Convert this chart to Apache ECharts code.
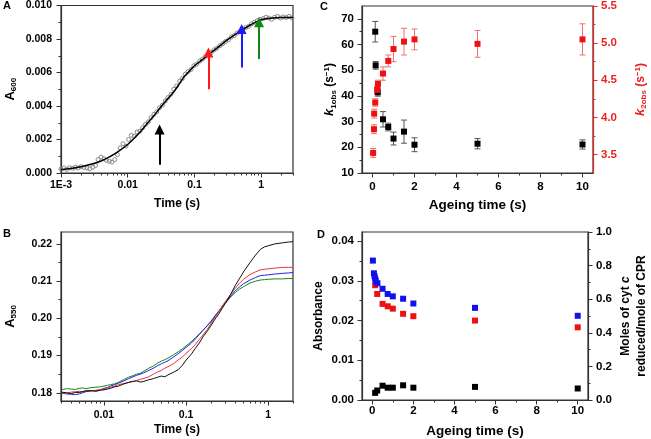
<!DOCTYPE html>
<html><head><meta charset="utf-8">
<script src="https://cdn.jsdelivr.net/npm/echarts@6/dist/echarts.min.js"></script>
<style>html,body{margin:0;padding:0;background:#fff}#c{width:651px;height:439px}</style>
</head><body><div id="c"></div>
<script>
// ---------- Panel A ----------
const aFitT = [0.001,0.0015,0.002,0.003,0.004,0.005,0.007,0.01,0.013,0.015,0.02,0.025,0.03,0.04,0.05,0.06,0.07,0.085,0.1,0.13,0.15,0.2,0.25,0.3,0.4,0.5,0.7,1,1.5,2,3];
const aFitY = [0.00020,0.00028,0.00037,0.00055,0.00072,0.00090,0.00125,0.00170,0.00215,0.00240,0.00300,0.00345,0.00385,0.00445,0.00490,0.00535,0.00575,0.00610,0.00640,0.00675,0.00695,0.00735,0.00765,0.00790,0.00825,0.00850,0.00885,0.00915,0.00925,0.00928,0.00928];
const aDataT = [0.00100,0.00110,0.00122,0.00135,0.00150,0.00165,0.00180,0.00200,0.00220,0.00245,0.00270,0.00300,0.00330,0.00360,0.00400,0.00440,0.00480,0.00530,0.00580,0.00640,0.00700,0.00770,0.00850,0.00940,0.01030,0.01130,0.01250,0.01380,0.01520,0.01670,0.01840,0.02030,0.02240,0.02470,0.02720,0.03000,0.03300,0.03650,0.04000,0.04450,0.04900,0.05400,0.06000,0.06600,0.07300,0.08000,0.08900,0.09800,0.10800,0.12000,0.13200,0.14600,0.16100,0.17800,0.19600,0.21700,0.24000,0.26500,0.29200,0.32300,0.35700,0.39400,0.43500,0.48100,0.53100,0.58700,0.64800,0.71600,0.79100,0.87400,0.96500,1.07000,1.18000,1.30000,1.44000,1.59000,1.76000,1.94000,2.14000,2.37000,2.62000,2.90000];
const aDataY = [0.00025,0.00030,0.00022,0.00032,0.00028,0.00035,0.00030,0.00038,0.00033,0.00030,0.00025,0.00035,0.00045,0.00080,0.00095,0.00085,0.00075,0.00070,0.00065,0.00080,0.00110,0.00150,0.00175,0.00160,0.00200,0.00225,0.00220,0.00245,0.00250,0.00270,0.00290,0.00305,0.00330,0.00350,0.00365,0.00390,0.00405,0.00430,0.00450,0.00470,0.00500,0.00520,0.00548,0.00565,0.00590,0.00605,0.00618,0.00640,0.00650,0.00668,0.00680,0.00695,0.00708,0.00720,0.00735,0.00745,0.00760,0.00772,0.00785,0.00795,0.00812,0.00820,0.00835,0.00845,0.00860,0.00868,0.00875,0.00890,0.00900,0.00910,0.00918,0.00922,0.00930,0.00925,0.00918,0.00930,0.00935,0.00925,0.00932,0.00928,0.00935,0.00926];
const arrowT  = [0.030, 0.162, 0.51, 0.93];
const arrowY0 = [0.0005, 0.0050, 0.0063, 0.0068];
const arrowY1 = [0.0026, 0.0072, 0.0086, 0.0090];
const aXTicks = [0.001, 0.01, 0.1, 1];
const aXLabels = ['1E-3', '0.01', '0.1', '1'];
const aYTicks = [0, 0.002, 0.004, 0.006, 0.008, 0.010];

// ---------- Panel B ----------
const bT = [0.003,0.0035,0.004,0.0045,0.005,0.0055,0.006,0.007,0.008,0.009,0.01,0.011,0.012,0.0135,0.015,0.0175,0.02,0.0225,0.025,0.0275,0.03,0.035,0.04,0.045,0.05,0.055,0.06,0.07,0.08,0.09,0.1,0.115,0.13,0.145,0.16,0.18,0.2,0.225,0.25,0.275,0.3,0.35,0.4,0.45,0.5,0.6,0.7,0.8,0.9,1.0,1.2,1.5,1.75,2.0];
const bBlack = [0.1802,0.1800,0.1798,0.1801,0.1801,0.1803,0.1805,0.1806,0.1804,0.1807,0.1808,0.1810,0.1812,0.1816,0.1818,0.1824,0.1828,0.1831,0.1832,0.1829,0.1830,0.1835,0.1838,0.1842,0.1845,0.1843,0.1848,0.1855,0.1862,0.1874,0.1888,0.1903,0.1920,0.1934,0.1950,0.1965,0.1980,0.1998,0.2012,0.2027,0.2040,0.2065,0.2090,0.2108,0.2125,0.2150,0.2170,0.2185,0.2192,0.2195,0.2200,0.2203,0.2205,0.2206];
const bRed   = [0.1800,0.1799,0.1802,0.1803,0.1804,0.1803,0.1806,0.1805,0.1807,0.1808,0.1810,0.1813,0.1815,0.1818,0.1822,0.1825,0.1828,0.1830,0.1833,0.1836,0.1838,0.1843,0.1850,0.1856,0.1860,0.1866,0.1870,0.1878,0.1888,0.1896,0.1906,0.1918,0.1930,0.1944,0.1955,0.1970,0.1985,0.2003,0.2018,0.2033,0.2045,0.2065,0.2082,0.2095,0.2105,0.2118,0.2125,0.2130,0.2132,0.2133,0.2135,0.2137,0.2137,0.2137];
const bBlue  = [0.1800,0.1797,0.1796,0.1795,0.1797,0.1800,0.1803,0.1805,0.1806,0.1808,0.1812,0.1814,0.1818,0.1822,0.1826,0.1832,0.1838,0.1843,0.1847,0.1850,0.1853,0.1860,0.1866,0.1873,0.1878,0.1882,0.1886,0.1896,0.1905,0.1914,0.1922,0.1933,0.1945,0.1957,0.1968,0.1980,0.1992,0.2007,0.2020,0.2032,0.2042,0.2060,0.2075,0.2085,0.2093,0.2103,0.2110,0.2115,0.2116,0.2117,0.2119,0.2121,0.2122,0.2123];
const bGreen = [0.1808,0.1811,0.1810,0.1809,0.1812,0.1813,0.1811,0.1814,0.1815,0.1816,0.1818,0.1820,0.1822,0.1824,0.1828,0.1836,0.1842,0.1846,0.1850,0.1852,0.1857,0.1866,0.1872,0.1880,0.1885,0.1889,0.1893,0.1902,0.1910,0.1918,0.1926,0.1937,0.1948,0.1958,0.1968,0.1979,0.1990,0.2004,0.2018,0.2030,0.2040,0.2058,0.2070,0.2079,0.2085,0.2095,0.2100,0.2103,0.2104,0.2105,0.2106,0.2106,0.2107,0.2107];
const bXTicks = [0.01, 0.1, 1];
const bXLabels = ['0.01', '0.1', '1'];
const bYTicks = [0.18, 0.19, 0.20, 0.21, 0.22];

// ---------- Panel C ----------
const cBlackX = [0.13,0.15,0.25,0.5,0.75,1,1.5,2,5,10];
const cBlackY = [65.0,51.9,41.4,30.9,27.9,23.4,26.1,21.0,21.4,21.1];
const cBlackErr = [4.0,1.5,1.5,3.0,1.5,2.5,4.5,2.7,2.0,1.8];
const cRedX = [0.03,0.07,0.08,0.13,0.22,0.26,0.5,0.75,1,1.5,2,5,10];
const cRedY = [3.52,3.84,4.05,4.20,4.37,4.45,4.59,4.76,4.92,5.02,5.05,4.99,5.05];
const cRedErr = [0.06,0.06,0.06,0.05,0.05,0.05,0.09,0.08,0.17,0.18,0.14,0.18,0.21];
const cXTicks = [0, 2, 4, 6, 8, 10];
const cYTicks = [10, 20, 30, 40, 50, 60, 70];
const cY2Ticks = [3.5, 4.0, 4.5, 5.0, 5.5];

// ---------- Panel D ----------
const dBlueX = [0.03,0.08,0.11,0.14,0.17,0.25,0.5,0.75,1,1.5,2,5,10];
const dBlueY = [0.0351,0.0319,0.0312,0.0306,0.0300,0.0294,0.0280,0.0267,0.0261,0.0255,0.0243,0.0232,0.0212];
const dRedX = [0.14,0.24,0.5,0.75,1,1.5,2,5,10];
const dRedY = [0.0289,0.0267,0.0242,0.0236,0.0230,0.0217,0.0211,0.0200,0.0183];
const dBlackX = [0.14,0.24,0.5,0.75,1,1.5,2,5,10];
const dBlackY = [0.0018,0.0024,0.0036,0.0031,0.0031,0.0037,0.0031,0.0033,0.0029];
const dXTicks = [0, 2, 4, 6, 8, 10];
const dYTicks = [0, 0.01, 0.02, 0.03, 0.04];
const dY2Ticks = [0, 0.2, 0.4, 0.6, 0.8, 1.0];

// ---------- helpers ----------
const L = Math.log10;
const FONT = '"Liberation Sans", Arial, sans-serif';
const AX = '#333';
function minorLog(lo, hi) {
  const out = [];
  for (let d = -4; d <= 1; d++) for (let k = 2; k <= 9; k++) {
    const v = k * Math.pow(10, d);
    if (v >= lo * 0.999 && v <= hi * 1.001) out.push(L(v));
  }
  return out;
}
function mids(arr) { const o = []; for (let i = 0; i < arr.length - 1; i++) o.push((arr[i] + arr[i + 1]) / 2); return o; }

function axis(o) {
  const color = o.color || AX;
  return {
    type: 'value', gridIndex: o.grid, min: o.min, max: o.max, position: o.pos,
    axisLine: {show: !o.minor, onZero: false, lineStyle: {color: color, width: 1.2}},
    axisTick: {show: true, inside: false, length: o.minor ? 2.5 : 4.5, customValues: o.ticks, lineStyle: {color: color, width: 1}},
    axisLabel: o.minor ? {show: false} : {show: true, customValues: o.ticks, formatter: o.fmt, margin: o.margin,
      color: color === AX ? '#000' : color, fontWeight: 'bold', fontSize: o.fs, fontFamily: FONT},
    splitLine: {show: false},
    name: o.name || '', nameLocation: 'middle', nameGap: o.gap || 0,
    nameTextStyle: {fontWeight: 'bold', fontSize: o.nfs || 12, fontFamily: FONT, color: color === AX ? '#000' : color, rich: o.rich || {}, align: 'center', lineHeight: o.nlh}
  };
}
function errRender(col) {
  return function (params, api) {
    const x = api.value(0), y = api.value(1), e = api.value(2);
    const t = api.coord([x, y + e]), b = api.coord([x, y - e]);
    const w = 3, st = {stroke: col, lineWidth: 1, fill: null};
    return {type: 'group', children: [
      {type: 'line', shape: {x1: t[0], y1: t[1], x2: b[0], y2: b[1]}, style: st},
      {type: 'line', shape: {x1: t[0] - w, y1: t[1], x2: t[0] + w, y2: t[1]}, style: st},
      {type: 'line', shape: {x1: b[0] - w, y1: b[1], x2: b[0] + w, y2: b[1]}, style: st}]};
  };
}
const zip = (xs, ys) => xs.map((x, i) => [x, ys[i]]);
const zipL = (xs, ys) => xs.map((x, i) => [L(x), ys[i]]);

const aXMap = {}; aXTicks.forEach((t, i) => aXMap[L(t).toFixed(3)] = aXLabels[i]);
const bXMap = {}; bXTicks.forEach((t, i) => bXMap[L(t).toFixed(3)] = bXLabels[i]);

const sub = {fontSize: 8, fontWeight: 'bold', fontFamily: FONT, padding: [7, 0, 0, 0]};
const sup = {fontSize: 8, fontWeight: 'bold', fontFamily: FONT, padding: [0, 0, 6, 0]};

const grid = [
  {left: 61, top: 5, width: 232, height: 168, show: true, borderColor: AX, borderWidth: 1.2},
  {left: 61, top: 232, width: 232, height: 169, show: true, borderColor: AX, borderWidth: 1.2},
  {left: 362, top: 5, width: 231, height: 168, show: true, borderColor: AX, borderWidth: 1.2},
  {left: 362, top: 232, width: 232, height: 168, show: true, borderColor: AX, borderWidth: 1.2}
];

const xAxis = [
  axis({grid: 0, min: L(0.001), max: L(3), pos: 'bottom', ticks: aXTicks.map(L), fmt: v => aXMap[v.toFixed(3)] || '', margin: 7, fs: 10.5, name: 'Time (s)', gap: 25, nfs: 12}),
  axis({grid: 0, min: L(0.001), max: L(3), pos: 'bottom', minor: true, ticks: minorLog(0.001, 3)}),
  axis({grid: 1, min: L(0.003), max: L(2), pos: 'bottom', ticks: bXTicks.map(L), fmt: v => bXMap[v.toFixed(3)] || '', margin: 9, fs: 10.5, name: 'Time (s)', gap: 23, nfs: 12}),
  axis({grid: 1, min: L(0.003), max: L(2), pos: 'bottom', minor: true, ticks: minorLog(0.003, 2)}),
  axis({grid: 2, min: -0.5, max: 10.5, pos: 'bottom', ticks: cXTicks, fmt: v => String(v), margin: 8, fs: 11.5, name: 'Ageing time (s)', gap: 25, nfs: 13.5}),
  axis({grid: 2, min: -0.5, max: 10.5, pos: 'bottom', minor: true, ticks: mids(cXTicks)}),
  axis({grid: 3, min: -0.5, max: 10.5, pos: 'bottom', ticks: dXTicks, fmt: v => String(v), margin: 5, fs: 11.5, name: 'Ageing time (s)', gap: 24, nfs: 13.5}),
  axis({grid: 3, min: -0.5, max: 10.5, pos: 'bottom', minor: true, ticks: mids(dXTicks)})
];
const RED = '#ee2222';
const yAxis = [
  axis({grid: 0, min: 0, max: 0.010, pos: 'left', ticks: aYTicks, fmt: v => v.toFixed(3), margin: 9, fs: 10.5,
        name: '{a|A}{s|600}', gap: 43, nfs: 13, rich: {a: {fontSize: 13, fontWeight: 'bold', fontFamily: FONT}, s: sub}}),
  axis({grid: 0, min: 0, max: 0.010, pos: 'left', minor: true, ticks: mids(aYTicks)}),
  axis({grid: 1, min: 0.1778, max: 0.2232, pos: 'left', ticks: bYTicks, fmt: v => v.toFixed(2), margin: 9, fs: 10.5,
        name: '{a|A}{s|550}', gap: 43, nfs: 13, rich: {a: {fontSize: 13, fontWeight: 'bold', fontFamily: FONT}, s: sub}}),
  axis({grid: 1, min: 0.1778, max: 0.2232, pos: 'left', minor: true, ticks: [0.185, 0.195, 0.205, 0.215]}),
  axis({grid: 2, min: 10, max: 75, pos: 'left', ticks: cYTicks, fmt: v => String(v), margin: 8, fs: 11.5,
        name: '{k|k}{s|1obs}{n| (s}{p|−1}{n|)}', gap: 22, nfs: 12,
        rich: {k: {fontSize: 13, fontWeight: 'bold', fontStyle: 'italic', fontFamily: FONT}, s: sub, p: sup, n: {fontSize: 12, fontWeight: 'bold', fontFamily: FONT}}}),
  axis({grid: 2, min: 10, max: 75, pos: 'left', minor: true, ticks: mids(cYTicks)}),
  axis({grid: 2, min: 3.25, max: 5.5, pos: 'right', color: RED, ticks: cY2Ticks, fmt: v => v.toFixed(1), margin: 8, fs: 11.5,
        name: '{k|k}{s|2obs}{n| (s}{p|−1}{n|)}', gap: 40, nfs: 12,
        rich: {k: {fontSize: 13, fontWeight: 'bold', fontStyle: 'italic', fontFamily: FONT, color: RED}, s: Object.assign({}, sub, {color: RED}), p: Object.assign({}, sup, {color: RED}), n: {fontSize: 12, fontWeight: 'bold', fontFamily: FONT, color: RED}}}),
  axis({grid: 2, min: 3.25, max: 5.5, pos: 'right', color: RED, minor: true, ticks: [3.75, 4.25, 4.75, 5.25]}),
  axis({grid: 3, min: 0, max: 0.0423, pos: 'left', ticks: dYTicks, fmt: v => v.toFixed(2), margin: 8, fs: 11.5,
        name: 'Absorbance', gap: 37, nfs: 12}),
  axis({grid: 3, min: 0, max: 0.0423, pos: 'left', minor: true, ticks: mids(dYTicks)}),
  axis({grid: 3, min: 0, max: 1.0, pos: 'right', ticks: dY2Ticks, fmt: v => v.toFixed(1), margin: 8, fs: 11.5,
        name: '{n|Moles of cyt }{i|c}\n{n|reduced/mole of CPR}', gap: 30, nfs: 12, nlh: 16,
        rich: {n: {fontSize: 12, fontWeight: 'bold', fontFamily: FONT, lineHeight: 16}, i: {fontSize: 12, fontWeight: 'bold', fontStyle: 'italic', fontFamily: FONT, lineHeight: 16}}}),
  axis({grid: 3, min: 0, max: 1.0, pos: 'right', minor: true, ticks: mids(dY2Ticks)})
];

const arrowColors = ['#000000', '#ff1a1a', '#1a1aff', '#118811'];
const sq = (c) => ({color: c, opacity: 1});
const series = [
  {type: 'scatter', xAxisIndex: 0, yAxisIndex: 0, data: zipL(aDataT, aDataY), symbol: 'circle', symbolSize: 4,
   itemStyle: {color: 'rgba(255,255,255,0)', borderColor: '#8a8a8a', borderWidth: 1, opacity: 1}, silent: true, z: 2},
  {type: 'line', xAxisIndex: 0, yAxisIndex: 0, data: zipL(aFitT, aFitY), smooth: 0.3, showSymbol: false, symbol: 'none',
   lineStyle: {color: '#000', width: 1.5}, z: 3},
  {type: 'lines', coordinateSystem: 'cartesian2d', xAxisIndex: 0, yAxisIndex: 0, symbol: ['none', 'triangle'], symbolSize: [1, 10], z: 4,
   data: arrowT.map((t, i) => ({coords: [[L(t), arrowY0[i]], [L(t), arrowY1[i]]], lineStyle: {color: arrowColors[i], width: 2, opacity: 1}}))},
  {type: 'line', xAxisIndex: 2, yAxisIndex: 2, data: zipL(bT, bGreen), showSymbol: false, symbol: 'none', lineStyle: {color: '#138a13', width: 1}},
  {type: 'line', xAxisIndex: 2, yAxisIndex: 2, data: zipL(bT, bBlue), showSymbol: false, symbol: 'none', lineStyle: {color: '#2222ee', width: 1}},
  {type: 'line', xAxisIndex: 2, yAxisIndex: 2, data: zipL(bT, bRed), showSymbol: false, symbol: 'none', lineStyle: {color: '#ee3333', width: 1}},
  {type: 'line', xAxisIndex: 2, yAxisIndex: 2, data: zipL(bT, bBlack), showSymbol: false, symbol: 'none', lineStyle: {color: '#111', width: 1}},
  {type: 'custom', xAxisIndex: 4, yAxisIndex: 6, renderItem: errRender('#f07070'), data: cRedX.map((x, i) => [x, cRedY[i], cRedErr[i]]), z: 2},
  {type: 'custom', xAxisIndex: 4, yAxisIndex: 4, renderItem: errRender('#555'), data: cBlackX.map((x, i) => [x, cBlackY[i], cBlackErr[i]]), z: 2},
  {type: 'scatter', xAxisIndex: 4, yAxisIndex: 4, data: zip(cBlackX, cBlackY), symbol: 'rect', symbolSize: 6, itemStyle: sq('#000'), z: 3},
  {type: 'scatter', xAxisIndex: 4, yAxisIndex: 6, data: zip(cRedX, cRedY), symbol: 'rect', symbolSize: 6, itemStyle: sq('#ee1111'), z: 4},
  {type: 'scatter', xAxisIndex: 6, yAxisIndex: 8, data: zip(dRedX, dRedY), symbol: 'rect', symbolSize: 6, itemStyle: sq('#ee1111'), z: 3},
  {type: 'scatter', xAxisIndex: 6, yAxisIndex: 8, data: zip(dBlueX, dBlueY), symbol: 'rect', symbolSize: 6, itemStyle: sq('#1111ee'), z: 4},
  {type: 'scatter', xAxisIndex: 6, yAxisIndex: 8, data: zip(dBlackX, dBlackY), symbol: 'rect', symbolSize: 6, itemStyle: sq('#000'), z: 4}
];

const lbl = (t, x, y) => ({type: 'text', left: x, top: y, style: {text: t, font: 'bold 11px ' + FONT, fill: '#000'}});
const option = {
  animation: false, backgroundColor: '#fff',
  grid, xAxis, yAxis, series,
  graphic: [lbl('A', 3, 0), lbl('B', 3, 228), lbl('C', 320, 1), lbl('D', 317, 229)]
};
const chart = echarts.init(document.getElementById('c'), null, {renderer: 'canvas'});
chart.setOption(option);
</script></body></html>
